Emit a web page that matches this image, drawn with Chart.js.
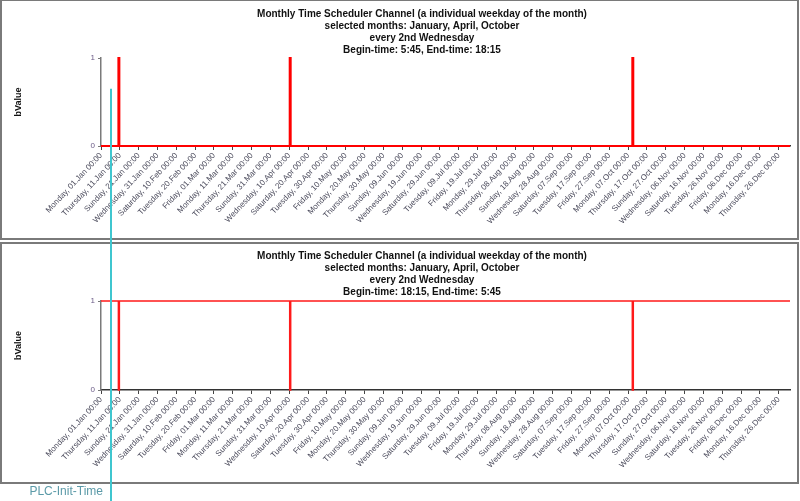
<!DOCTYPE html>
<html>
<head>
<meta charset="utf-8">
<script src="https://cdn.jsdelivr.net/npm/chart.js@4"></script>
<style>
  html, body { margin: 0; padding: 0; background: #fff; }
  #wrap { position: relative; width: 800px; height: 501px; overflow: hidden; }
  #c1 { position: absolute; left: 0; top: 0; }
  #c2 { position: absolute; left: 0; top: 241px; }
</style>
</head>
<body>
<div id="wrap">
  <canvas id="c1" width="800" height="241"></canvas>
  <canvas id="c2" width="800" height="260"></canvas>
</div>
<script>
// ---------- data ----------
const YEAR = 2024;
const tickLabels = [
  "Monday, 01.Jan 00:00", "Thursday, 11.Jan 00:00", "Sunday, 21.Jan 00:00", "Wednesday, 31.Jan 00:00",
  "Saturday, 10.Feb 00:00", "Tuesday, 20.Feb 00:00", "Friday, 01.Mar 00:00", "Monday, 11.Mar 00:00",
  "Thursday, 21.Mar 00:00", "Sunday, 31.Mar 00:00", "Wednesday, 10.Apr 00:00", "Saturday, 20.Apr 00:00",
  "Tuesday, 30.Apr 00:00", "Friday, 10.May 00:00", "Monday, 20.May 00:00", "Thursday, 30.May 00:00",
  "Sunday, 09.Jun 00:00", "Wednesday, 19.Jun 00:00", "Saturday, 29.Jun 00:00", "Tuesday, 09.Jul 00:00",
  "Friday, 19.Jul 00:00", "Monday, 29.Jul 00:00", "Thursday, 08.Aug 00:00", "Sunday, 18.Aug 00:00",
  "Wednesday, 28.Aug 00:00", "Saturday, 07.Sep 00:00", "Tuesday, 17.Sep 00:00", "Friday, 27.Sep 00:00",
  "Monday, 07.Oct 00:00", "Thursday, 17.Oct 00:00", "Sunday, 27.Oct 00:00", "Wednesday, 06.Nov 00:00",
  "Saturday, 16.Nov 00:00", "Tuesday, 26.Nov 00:00", "Friday, 06.Dec 00:00", "Monday, 16.Dec 00:00",
  "Thursday, 26.Dec 00:00"
];
const axisStart = "2024-01-01 00:00";
const axisEnd   = "2025-01-01 00:00";

const switchTimes = [
  "2024-01-01 00:00",
  "2024-01-10 05:45", "2024-01-10 18:15",
  "2024-04-10 05:45", "2024-04-10 18:15",
  "2024-10-09 05:45", "2024-10-09 18:15",
  "2025-01-01 00:00"
];
const topValues    = [0, 1, 0, 1, 0, 1, 0, 0];
const bottomValues = [1, 0, 1, 0, 1, 0, 1, 1];

const plcInitTime = "2024-01-06 08:00";
const plcInitLabel = "PLC-Init-Time";

const titleTop = [
  "Monthly Time Scheduler Channel (a individual weekday of the month)",
  "selected months: January, April, October",
  "every 2nd Wednesday",
  "Begin-time: 5:45, End-time: 18:15"
];
const titleBottom = [
  "Monthly Time Scheduler Channel (a individual weekday of the month)",
  "selected months: January, April, October",
  "every 2nd Wednesday",
  "Begin-time: 18:15, End-time: 5:45"
];
const yTickValues = [0, 1];
const yTitle = "bValue";

// ---------- helpers ----------
const MONTHS = ["Jan","Feb","Mar","Apr","May","Jun","Jul","Aug","Sep","Oct","Nov","Dec"];
function parseStamp(s) {
  const m = s.match(/(\d+)-(\d+)-(\d+) (\d+):(\d+)/);
  return Date.UTC(+m[1], +m[2] - 1, +m[3], +m[4], +m[5]);
}
function labelToTime(lbl) {
  const m = lbl.match(/(\d+)\.(\w{3}) (\d+):(\d+)/);
  return Date.UTC(YEAR, MONTHS.indexOf(m[2]), +m[1], +m[3], +m[4]);
}
const tickValues = tickLabels.map(labelToTime);
const xMin = parseStamp(axisStart), xMax = parseStamp(axisEnd);
const plcTime = parseStamp(plcInitTime);

// ---------- plugins ----------
const frameColor = '#7a7a7a';
const cyan = '#3fc6cf';

function makeOptions(titleLines, cfg) {
  return {
    responsive: false,
    animation: false,
    layout: { padding: { left: 0, right: 10, top: 0, bottom: 0 } },
    plugins: {
      legend: { display: false },
      tooltip: { enabled: false },
      title: {
        display: true,
        text: titleLines,
        color: '#111',
        font: { family: 'Liberation Sans, Arial, sans-serif', size: 10, weight: 'bold', lineHeight: 1.2 },
        padding: { top: cfg.titleTop, bottom: cfg.titleBottom }
      },
      frameDeco: cfg
    },
    scales: {
      x: {
        type: 'linear',
        min: xMin, max: xMax,
        afterBuildTicks: s => { s.ticks = tickValues.map(v => ({ value: v })); },
        afterFit: s => { s.height = cfg.xHeight; },
        ticks: {
          autoSkip: false,
          maxRotation: 47, minRotation: 47,
          padding: 1,
          color: '#4b4b5c',
          font: { family: 'Liberation Sans, Arial, sans-serif', size: 8 },
          callback: (v) => { const i = tickValues.indexOf(v); return i >= 0 ? tickLabels[i] : ''; }
        },
        grid: { display: true, drawOnChartArea: false, drawTicks: true, tickLength: 4, color: '#444' },
        border: { display: true, color: '#333', width: 1.5 }
      },
      y: {
        min: 0, max: 1,
        afterBuildTicks: s => { s.ticks = yTickValues.map(v => ({ value: v })); },
        afterFit: s => { s.width = 101; },
        ticks: {
          color: '#6a5a86',
          padding: 3,
          font: { family: 'Liberation Sans, Arial, sans-serif', size: 8 }
        },
        grid: { display: true, drawOnChartArea: false, drawTicks: true, tickLength: 3, color: '#777' },
        border: { display: true, color: '#7a7a7a', width: 1.5 },
        title: {
          display: true, text: yTitle, color: '#111',
          font: { family: 'Liberation Sans, Arial, sans-serif', size: 9, weight: 'bold' },
          padding: { top: 13, bottom: 0 }
        }
      }
    }
  };
}

const frameDeco = {
  id: 'frameDeco',
  afterLayout(chart, args, o) {
    if (chart.titleBlock) {
      chart.titleBlock.left += o.titleShift;
      chart.titleBlock.right += o.titleShift;
    }
  },
  beforeDraw(chart, args, o) {
    const ctx = chart.ctx;
    ctx.save();
    ctx.strokeStyle = frameColor;
    ctx.lineWidth = 2;
    ctx.strokeRect(1, o.frameTop + 1, 797, o.frameBottom - o.frameTop - 1);
    ctx.restore();
  },
  afterDatasetsDraw(chart, args, o) {
    const ctx = chart.ctx;
    const x = Math.round(chart.scales.x.getPixelForValue(plcTime));
    const yTop = o.markerFrom === null ? 0 : chart.scales.y.getPixelForValue(o.markerFrom);
    ctx.save();
    ctx.strokeStyle = cyan;
    ctx.lineWidth = 2;
    ctx.beginPath();
    ctx.moveTo(x, yTop);
    ctx.lineTo(x, chart.height);
    ctx.stroke();
    if (o.showLabel) {
      ctx.fillStyle = '#5b9aa8';
      ctx.font = '12px "Liberation Sans", Arial, sans-serif';
      ctx.textAlign = 'right';
      ctx.textBaseline = 'alphabetic';
      ctx.fillText(plcInitLabel, x - 8, chart.height - 6);
    }
    ctx.restore();
  }
};

function dataset(values, width, color) {
  return {
    data: switchTimes.map((t, i) => ({ x: parseStamp(t), y: values[i] })),
    borderColor: color,
    borderWidth: width,
    stepped: 'before',
    pointRadius: 0,
    fill: false,
    clip: 6
  };
}

new Chart(document.getElementById('c1'), {
  type: 'line',
  data: { datasets: [dataset(topValues, 2, '#ff0000')] },
  options: makeOptions(titleTop, {
    titleTop: 8, titleBottom: 2, xHeight: 95, titleShift: 27,
    frameTop: -1, frameBottom: 239, markerFrom: 0.65, showLabel: false
  }),
  plugins: [frameDeco]
});

new Chart(document.getElementById('c2'), {
  type: 'line',
  data: { datasets: [dataset(bottomValues, 1.5, '#ff1a1a')] },
  options: makeOptions(titleBottom, {
    titleTop: 9, titleBottom: 3, xHeight: 111, titleShift: 27,
    frameTop: 1, frameBottom: 242, markerFrom: null, showLabel: true
  }),
  plugins: [frameDeco]
});
</script>
</body>
</html>
